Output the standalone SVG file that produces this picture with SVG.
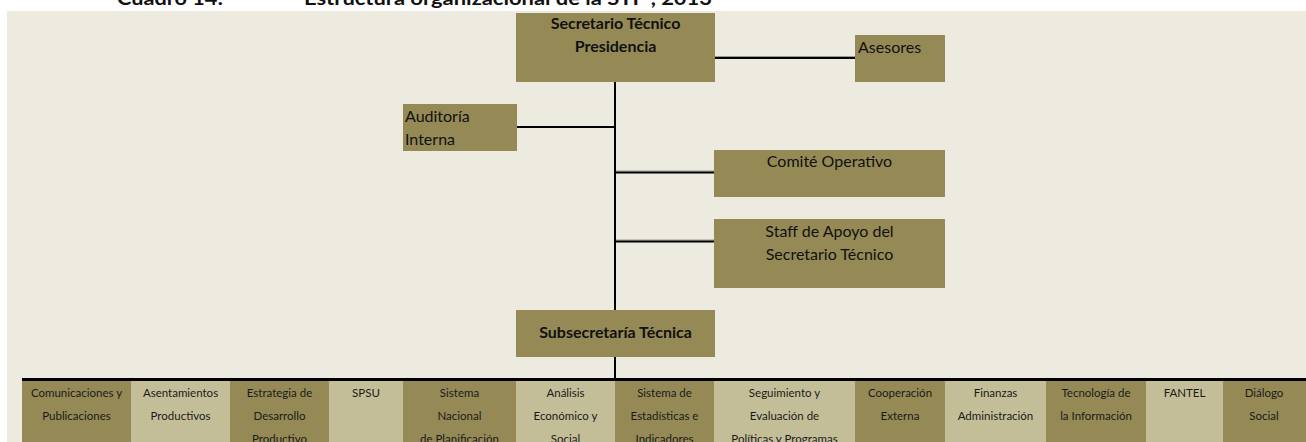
<svg xmlns="http://www.w3.org/2000/svg" width="1306" height="442" viewBox="0 0 1306 442">
<style>
.bg{fill:#EDEAE0}
.dk{fill:#958A56}
.lt{fill:#C4BE98}
.t{font-family:Lato,"Liberation Sans",sans-serif;fill:#111}
.big{font-size:16px}
.b{font-weight:bold}
.sm{font-size:11.5px;fill:#1a1a1a}
.m{text-anchor:middle}
.ln{stroke:#000;stroke-width:2;fill:none}
.sh{stroke:#9a9a90;stroke-width:1;fill:none}
</style>
<rect width="1306" height="442" fill="#FFFFFF"/>
<rect class="bg" x="7" y="11" width="1299" height="431"/>
<g id="title">
<text class="t b" x="117" y="5" font-size="19" textLength="106" lengthAdjust="spacingAndGlyphs">Cuadro 14:</text>
<text class="t b" x="304" y="5" font-size="19" textLength="408" lengthAdjust="spacingAndGlyphs">Estructura organizacional de la STP , 2013</text>
</g>
<g id="connectors">
<line class="ln" x1="615" y1="82" x2="615" y2="310"/>
<line class="sh" x1="715" y1="56.5" x2="855" y2="56.5"/>
<line class="ln" x1="715" y1="58" x2="855" y2="58"/>
<line class="ln" x1="517" y1="127" x2="616" y2="127"/>
<line class="sh" x1="616" y1="171" x2="714" y2="171"/>
<line class="ln" x1="616" y1="172.5" x2="714" y2="172.5"/>
<line class="sh" x1="616" y1="240" x2="714" y2="240"/>
<line class="ln" x1="616" y1="241.5" x2="714" y2="241.5"/>
<line class="ln" x1="615" y1="357" x2="615" y2="379"/>
<line stroke="#000" stroke-width="3" x1="22" y1="379.5" x2="1306" y2="379.5"/>
</g>
<g id="n-secretario">
<rect class="dk" x="516" y="13" width="199" height="69"/>
<text class="t big b m" x="615.5" y="29">Secretario Técnico</text>
<text class="t big b m" x="615.5" y="52">Presidencia</text>
</g>
<g id="n-asesores">
<rect class="dk" x="855" y="35" width="90" height="47"/>
<text class="t big" x="858" y="53">Asesores</text>
</g>
<g id="n-auditoria">
<rect class="dk" x="403" y="104" width="114" height="47"/>
<text class="t big" x="405" y="122">Auditoría</text>
<text class="t big" x="405" y="145">Interna</text>
</g>
<g id="n-comite">
<rect class="dk" x="714" y="150" width="231" height="47"/>
<text class="t big m" x="829.5" y="167">Comité Operativo</text>
</g>
<g id="n-staff">
<rect class="dk" x="714" y="219" width="231" height="69"/>
<text class="t big m" x="829.5" y="237">Staff de Apoyo del</text>
<text class="t big m" x="829.5" y="260">Secretario Técnico</text>
</g>
<g id="n-subsecretaria">
<rect class="dk" x="516" y="310" width="199" height="47"/>
<text class="t big b m" x="615.5" y="338">Subsecretaría Técnica</text>
</g>
<g id="n-comunicaciones">
<rect class="dk" x="22" y="381" width="109" height="61"/>
<text class="t sm m" x="76.5" y="397">Comunicaciones y</text>
<text class="t sm m" x="76.5" y="420">Publicaciones</text>
</g>
<g id="n-asentamientos">
<rect class="lt" x="131" y="381" width="99" height="61"/>
<text class="t sm m" x="180.5" y="397">Asentamientos</text>
<text class="t sm m" x="180.5" y="420">Productivos</text>
</g>
<g id="n-estrategia">
<rect class="dk" x="230" y="381" width="99" height="61"/>
<text class="t sm m" x="279.5" y="397">Estrategia de</text>
<text class="t sm m" x="279.5" y="420">Desarrollo</text>
<text class="t sm m" x="279.5" y="443">Productivo</text>
</g>
<g id="n-spsu">
<rect class="lt" x="329" y="381" width="74" height="61"/>
<text class="t sm m" x="366" y="397">SPSU</text>
</g>
<g id="n-sistema-nacional">
<rect class="dk" x="403" y="381" width="113" height="61"/>
<text class="t sm m" x="459.5" y="397">Sistema</text>
<text class="t sm m" x="459.5" y="420">Nacional</text>
<text class="t sm m" x="459.5" y="443">de Planificación</text>
</g>
<g id="n-analisis">
<rect class="lt" x="516" y="381" width="99" height="61"/>
<text class="t sm m" x="565.5" y="397">Análisis</text>
<text class="t sm m" x="565.5" y="420">Económico y</text>
<text class="t sm m" x="565.5" y="443">Social</text>
</g>
<g id="n-estadisticas">
<rect class="dk" x="615" y="381" width="99" height="61"/>
<text class="t sm m" x="664.5" y="397">Sistema de</text>
<text class="t sm m" x="664.5" y="420">Estadísticas e</text>
<text class="t sm m" x="664.5" y="443">Indicadores</text>
</g>
<g id="n-seguimiento">
<rect class="lt" x="714" y="381" width="141" height="61"/>
<text class="t sm m" x="784.5" y="397">Seguimiento y</text>
<text class="t sm m" x="784.5" y="420">Evaluación de</text>
<text class="t sm m" x="784.5" y="443">Políticas y Programas</text>
</g>
<g id="n-cooperacion">
<rect class="dk" x="855" y="381" width="90" height="61"/>
<text class="t sm m" x="900" y="397">Cooperación</text>
<text class="t sm m" x="900" y="420">Externa</text>
</g>
<g id="n-finanzas">
<rect class="lt" x="945" y="381" width="101" height="61"/>
<text class="t sm m" x="995.5" y="397">Finanzas</text>
<text class="t sm m" x="995.5" y="420">Administración</text>
</g>
<g id="n-tecnologia">
<rect class="dk" x="1046" y="381" width="100" height="61"/>
<text class="t sm m" x="1096" y="397">Tecnología de</text>
<text class="t sm m" x="1096" y="420">la Información</text>
</g>
<g id="n-fantel">
<rect class="lt" x="1146" y="381" width="77" height="61"/>
<text class="t sm m" x="1184.5" y="397">FANTEL</text>
</g>
<g id="n-dialogo">
<rect class="dk" x="1223" y="381" width="83" height="61"/>
<text class="t sm m" x="1264" y="397">Diálogo</text>
<text class="t sm m" x="1264" y="420">Social</text>
</g>
</svg>
